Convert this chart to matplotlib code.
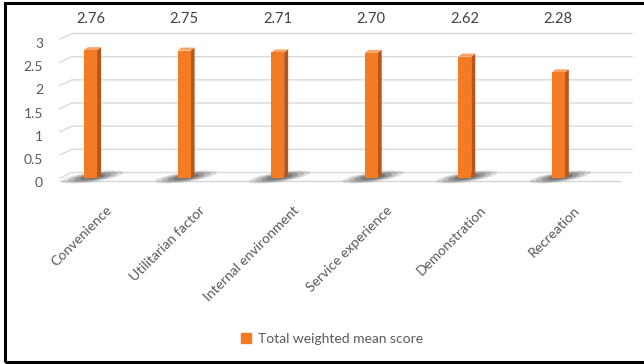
import matplotlib
matplotlib.use('Agg')
import matplotlib.pyplot as plt
from matplotlib.patches import Polygon, Ellipse, Rectangle, Patch
from matplotlib import transforms

categories = ['Convenience', 'Utilitarian factor', 'Internal environment',
              'Service experience', 'Demonstration', 'Recreation']
scores = [2.76, 2.75, 2.71, 2.70, 2.62, 2.28]
ytick_values = [0, 0.5, 1, 1.5, 2, 2.5, 3]
ytick_labels = ['0', '0.5', '1', '1.5', '2', '2.5', '3']
series_name = 'Total weighted mean score'

plt.rcParams['font.family'] = ['Lato', 'DejaVu Sans']

W, H = 644, 364
fig = plt.figure(figsize=(W / 100, H / 100), dpi=100)
ax = fig.add_axes([60 / W, 1 - 178 / H, 560 / W, 139 / H])
xmin, xmax = -0.326, 5.66
ax.set_xlim(xmin, xmax)
ax.set_ylim(0, 3)
for s in ax.spines.values():
    s.set_visible(False)

# pixels per data unit, used for the fake 3d depth
XS = 560 / (xmax - xmin)
YS = 139 / 3


def px(dx, dy):
    return transforms.ScaledTranslation(dx / 100, dy / 100, fig.dpi_scale_trans)


# back wall gridlines with slanted left edge
gdx, gdy = 12 / XS, 5.5 / YS
for v in ytick_values:
    ax.plot([xmin, xmin + gdx, xmax + gdx], [v, v + gdy, v + gdy],
            color='#d9d9d9', lw=1, clip_on=False, zorder=0)
# front edge of the floor
ax.plot([xmin, xmax], [-3 / YS, -3 / YS], color='#d4d4d4', lw=1,
        clip_on=False, zorder=0)

x = list(range(len(categories)))
w = 0.14
front, side, top = '#F27B24', '#B9541A', '#F8A266'
bdx, bdy = 4 / XS, 3 / YS

for xi, s in zip(x, scores):
    # soft tilted shadow on the floor, sized in pixels around the bar foot
    foot = fig.dpi_scale_trans + transforms.ScaledTranslation(xi, 0, ax.transData)
    for ew, eh, a in [(62, 10, 0.14), (50, 8, 0.2), (38, 6.5, 0.26), (26, 5, 0.3)]:
        ax.add_patch(Ellipse((0.02, 0.01), ew / 100, eh / 100, angle=8,
                             transform=foot, color='#303030', alpha=a, lw=0,
                             zorder=1, clip_on=False))
    ax.add_patch(Polygon([(xi + w / 2, 0), (xi + w / 2 + bdx, bdy),
                          (xi + w / 2 + bdx, s + bdy), (xi + w / 2, s)],
                         closed=True, color=side, lw=0, zorder=3))
    ax.add_patch(Polygon([(xi - w / 2, s), (xi + w / 2, s),
                          (xi + w / 2 + bdx, s + bdy), (xi - w / 2 + bdx, s + bdy)],
                         closed=True, color=top, lw=0, zorder=3))

ax.bar(x, scores, width=w, color=front, zorder=3)

# value labels in a row along the top
lab_tr = transforms.blended_transform_factory(ax.transData, fig.transFigure)
for xi, s in zip(x, scores):
    ax.text(xi, 1 - 19 / H, f'{s:.2f}', transform=lab_tr, ha='center',
            va='center', fontsize=10.5, color='#404040')

ax.set_yticks(ytick_values, ytick_labels)
ax.tick_params(axis='y', length=0, pad=12.2, labelsize=10, labelcolor='#595959')
for lbl in ax.get_yticklabels():
    lbl.set_transform(lbl.get_transform() + px(0, -4))

ax.set_xticks(x, categories, rotation=45, ha='right', va='center',
              rotation_mode='anchor')
ax.tick_params(axis='x', length=0, pad=0, labelsize=10, labelcolor='#595959')
for lbl in ax.get_xticklabels():
    lbl.set_transform(lbl.get_transform() + px(19, -30))

fig.legend(handles=[Patch(color='#F47920', label=series_name)], loc='center',
           bbox_to_anchor=(332 / W, 1 - 339 / H), frameon=False, fontsize=10,
           labelcolor='#595959', handlelength=0.7, handleheight=0.7,
           handletextpad=0.5)

# black frame, open on the right side
fig.patches.append(Rectangle((5 / W, 2.5 / H), 1.0, 1 - 5.5 / H,
                             transform=fig.transFigure, fill=False,
                             ec='black', lw=2.2))

fig.savefig('out.png', dpi=100)
